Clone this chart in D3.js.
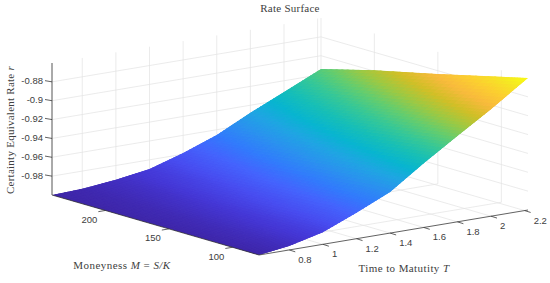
<!DOCTYPE html>
<html>
<head>
<meta charset="utf-8">
<script src="https://cdn.jsdelivr.net/npm/d3@7"></script>
<style>
html, body { margin: 0; padding: 0; background: #fff; }
svg { display: block; }
.tick { font-family: "Liberation Sans", Arial, sans-serif; font-size: 9.5px; fill: #404040; }
.lbl { font-family: "Liberation Serif", serif; font-size: 11px; letter-spacing: 0.25px; fill: #404040; }
</style>
</head>
<body>
<div id="chart"></div>
<script>
// values
var titleText = "Rate Surface"
var timeGrid = [0.62, 0.8, 1, 1.2, 1.4, 1.6, 1.8, 2, 2.22]
var moneyGrid = [242, 200, 150, 100, 79]
var z242 = [-1, -0.9987, -0.9952, -0.9897, -0.9788, -0.9655, -0.948, -0.932, -0.914]
var z200 = [-1, -0.9980, -0.9935, -0.9855, -0.9725, -0.9568, -0.9379, -0.9204, -0.899]
var z150 = [-1, -0.9970, -0.9908, -0.9800, -0.965, -0.9464, -0.926, -0.9065, -0.8835]
var z100 = [-1, -0.9960, -0.9885, -0.9750, -0.9576, -0.9363, -0.914, -0.8923, -0.867]
var z79 = [-1, -0.9958, -0.9873, -0.9724, -0.9565, -0.932, -0.909, -0.8865, -0.86]
var surface = [z242, z200, z150, z100, z79]

var timeTicks = [0.8, 1, 1.2, 1.4, 1.6, 1.8, 2, 2.2]
var moneyTicks = [200, 150, 100]
var rateTicks = [-0.88, -0.9, -0.92, -0.94, -0.96, -0.98]

// parula colormap, sampled from the 64 entry table
var parulaAt = [0, 4, 8, 12, 16, 20, 24, 28, 32, 36, 40, 44, 48, 52, 56, 60, 63]
var parula = ["#3e26a8", "#4537d5", "#484df0", "#4563fd", "#327bfc", "#2b91ef", "#20a5e3", "#08b5d0",
    "#18bfb6", "#37c897", "#64cd6f", "#9dc943", "#d1bf27", "#f8ba3d", "#fccf30", "#f5e924", "#f9fb14"]

var width = 550, height = 283

var svg = d3.select("#chart").append("svg")
    .attr("width", width)
    .attr("height", height)

// oblique projection: each data axis moves the point along its own screen direction
var timeX = d3.scaleLinear().domain([0.62, 2.22]).range([0, 269])
var timeY = d3.scaleLinear().domain([0.62, 2.22]).range([0, -45])
var moneyX = d3.scaleLinear().domain([79, 242]).range([0, -207])
var moneyY = d3.scaleLinear().domain([79, 242]).range([0, -60])
var rateH = d3.scaleLinear().domain([-1, -0.86]).range([0, -132])
var color = d3.scaleLinear()
    .domain(parulaAt.map(function(k) { return -1 + 0.14 * k / 63 }))
    .range(parula)

function project(m, t, z) {
    return [259 + timeX(t) + moneyX(m), 255 + timeY(t) + moneyY(m) + rateH(z)]
}
function line(a, b, col, w) {
    svg.append("line")
        .attr("x1", a[0]).attr("y1", a[1])
        .attr("x2", b[0]).attr("y2", b[1])
        .attr("stroke", col)
        .attr("stroke-width", w)
}

var mMin = 79, mMax = 242, tMin = 0.62, tMax = 2.22, zMin = -1, zMax = -0.86
var gridCol = "#e2e2e2", axisCol = "#3a3a3a"

// grid on the floor and two walls
timeTicks.forEach(function(t) {
    line(project(mMin, t, zMin), project(mMax, t, zMin), gridCol, 0.7)
    line(project(mMax, t, zMin), project(mMax, t, zMax), gridCol, 0.7)
})
moneyTicks.forEach(function(m) {
    line(project(m, tMin, zMin), project(m, tMax, zMin), gridCol, 0.7)
    line(project(m, tMax, zMin), project(m, tMax, zMax), gridCol, 0.7)
})
rateTicks.forEach(function(z) {
    line(project(mMax, tMin, z), project(mMax, tMax, z), gridCol, 0.7)
    line(project(mMax, tMax, z), project(mMin, tMax, z), gridCol, 0.7)
})
line(project(mMax, tMax, zMin), project(mMax, tMax, zMax), gridCol, 0.7)

// surface, shaded like MATLAB's interp: each grid cell split into small quads
var outline = []
timeGrid.forEach(function(t, j) { outline.push(project(mMax, t, surface[0][j])) })
moneyGrid.forEach(function(m, i) { outline.push(project(m, tMax, surface[i][timeGrid.length - 1])) })
timeGrid.slice().reverse().forEach(function(t, j) { outline.push(project(mMin, t, surface[moneyGrid.length - 1][timeGrid.length - 1 - j])) })
moneyGrid.slice().reverse().forEach(function(m, i) { outline.push(project(m, tMin, surface[moneyGrid.length - 1 - i][0])) })

svg.append("clipPath").attr("id", "surf-clip")
    .append("polygon")
    .attr("points", outline.map(function(p) { return p.join(",") }).join(" "))

var surf = svg.append("g").attr("clip-path", "url(#surf-clip)")
var steps = 10
for (var i = 0; i < moneyGrid.length - 1; i++) {
    for (var j = 0; j < timeGrid.length - 1; j++) {
        var mAt = d3.scaleLinear().domain([0, steps]).range([moneyGrid[i], moneyGrid[i + 1]])
        var tAt = d3.scaleLinear().domain([0, steps]).range([timeGrid[j], timeGrid[j + 1]])
        var near = d3.scaleLinear().domain([0, steps]).range([surface[i][j], surface[i][j + 1]])
        var far = d3.scaleLinear().domain([0, steps]).range([surface[i + 1][j], surface[i + 1][j + 1]])
        var zAt = function(a, b) { return near(b) + (far(b) - near(b)) * a / steps }
        for (var a = 0; a < steps; a++) {
            for (var b = 0; b < steps; b++) {
                var pts = [
                    project(mAt(a), tAt(b), zAt(a, b)),
                    project(mAt(a), tAt(b + 1), zAt(a, b + 1)),
                    project(mAt(a + 1), tAt(b + 1), zAt(a + 1, b + 1)),
                    project(mAt(a + 1), tAt(b), zAt(a + 1, b))
                ]
                var c = color(zAt(a + 0.5, b + 0.5))
                surf.append("polygon")
                    .attr("points", pts.map(function(p) { return p.join(",") }).join(" "))
                    .attr("fill", c)
                    .attr("stroke", c)
                    .attr("stroke-width", 1.2)
            }
        }
    }
}

// axes
line(project(mMax, tMin, zMin), project(mMax, tMin, zMax), "#555", 1)
line(project(mMax, tMin, zMin), project(mMin, tMin, zMin), axisCol, 0.8)
line(project(mMin, tMin, zMin), project(mMin, tMax, zMin), axisCol, 0.8)

rateTicks.forEach(function(z) {
    var p = project(mMax, tMin, z)
    line(p, [p[0] - 7, p[1] - 1.2], axisCol, 0.8)
    svg.append("text").attr("class", "tick")
        .attr("x", p[0] - 9).attr("y", p[1] + 2.4)
        .attr("text-anchor", "end")
        .text(z === -0.9 ? "-0.9" : z.toFixed(2))
})
moneyTicks.forEach(function(m) {
    var p = project(m, tMin, zMin)
    line(p, [p[0] - 7, p[1] + 1.2], axisCol, 0.8)
    svg.append("text").attr("class", "tick")
        .attr("x", p[0] - 16).attr("y", p[1] + 12.5)
        .attr("text-anchor", "middle")
        .text(m)
})
timeTicks.forEach(function(t) {
    var p = project(mMin, t, zMin)
    line(p, [p[0] + 6, p[1] + 1.9], axisCol, 0.8)
    svg.append("text").attr("class", "tick")
        .attr("x", p[0] + 9).attr("y", p[1] + 13)
        .text(String(t))
})

// labels
svg.append("text").attr("class", "lbl")
    .attr("x", 290).attr("y", 12)
    .attr("text-anchor", "middle")
    .text(titleText)

var zLabel = svg.append("text").attr("class", "lbl")
    .attr("transform", "translate(14,130) rotate(-90)")
    .attr("text-anchor", "middle")
zLabel.append("tspan").text("Certainty Equivalent Rate ")
zLabel.append("tspan").attr("font-style", "italic").text("r")

var mLabel = svg.append("text").attr("class", "lbl")
    .attr("x", 122).attr("y", 269)
    .attr("text-anchor", "middle")
    .style("letter-spacing", "0.45px")
mLabel.append("tspan").text("Moneyness ")
mLabel.append("tspan").attr("font-style", "italic").text("M")
mLabel.append("tspan").text(" = ")
mLabel.append("tspan").attr("font-style", "italic").text("S/K")

var tLabel = svg.append("text").attr("class", "lbl")
    .attr("x", 404).attr("y", 272)
    .attr("text-anchor", "middle")
    .style("letter-spacing", "0.4px")
tLabel.append("tspan").text("Time to Matutity ")
tLabel.append("tspan").attr("font-style", "italic").text("T")
</script>
</body>
</html>
